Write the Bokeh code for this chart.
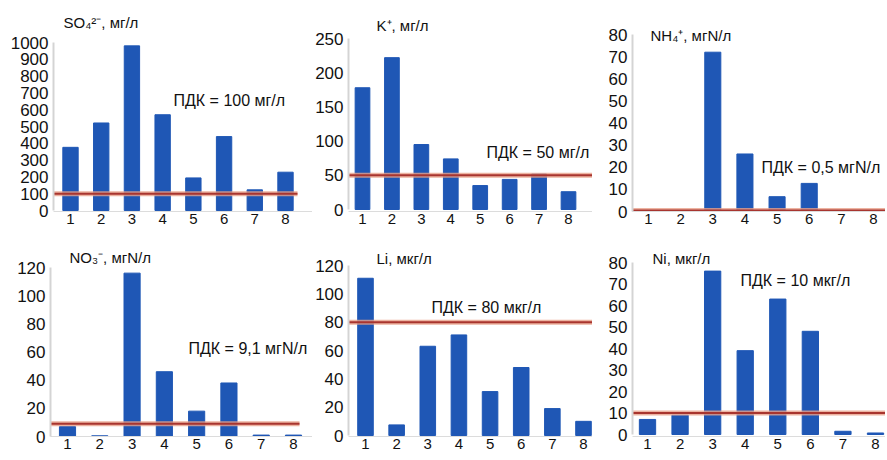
from bokeh.plotting import figure
from bokeh.layouts import column, row
from bokeh.models import Label, FixedTicker
from bokeh.embed import file_html
from bokeh.resources import INLINE

# ---------------- data ----------------
sites = [1, 2, 3, 4, 5, 6, 7, 8]
site_labels = ["1", "2", "3", "4", "5", "6", "7", "8"]

so4 = [376, 521, 980, 570, 194, 440, 123, 228]
k_ion = [178, 222, 95, 74, 35, 44, 52, 26]
nh4 = [0, 0, 72, 26, 6.7, 12.7, 0, 0]
no3 = [7, 0.5, 116, 46, 18, 38, 1, 1]
li = [111, 7.5, 63, 71, 31, 48, 19, 10]
ni = [7, 9, 76, 39, 63, 48, 1.5, 0.7]

titles = ["SO\u2084\u00b2\u207b, мг/л", "K\u207a, мг/л", "NH\u2084\u207a, мгN/л",
          "NO\u2083\u207b, мгN/л", "Li, мкг/л", "Ni, мкг/л"]
pdk_values = [100, 50, 0.5, 9.1, 80, 10]
pdk_labels = ["ПДК = 100 мг/л", "ПДК = 50 мг/л", "ПДК = 0,5 мгN/л",
              "ПДК = 9,1 мгN/л", "ПДК = 80 мкг/л", "ПДК = 10 мкг/л"]
y_ticks = [list(range(0, 1001, 100)), list(range(0, 251, 50)), list(range(0, 81, 10)),
           list(range(0, 121, 20)), list(range(0, 121, 20)), list(range(0, 81, 10))]
series = [so4, k_ion, nh4, no3, li, ni]

# ---------------- layout (page pixels) ----------------
FONT = "Liberation Sans"
BAR = "#1f57b5"
cols = [(0, 312), (312, 280), (592, 293)]                    # fig x0, width
rows = [(0, 228, 8, 211), (228, 230, 238, 436)]              # fig y0, height, frame top, frame bottom
# per panel: frame left, frame right, x of site1, x of site8, y of zero, y of top tick, line end x
geo = [(53, 312, 70, 285, 210, 42, 297), (348, 592, 362, 568, 209, 38, 592),
       (632, 885, 648, 873, 211, 34, 885), (50, 312, 67, 293, 436, 267, 299),
       (348, 592, 365, 583, 435, 265, 592), (632, 885, 647, 875, 434, 262, 885)]
title_pos = [(60, 22), (373, 25), (647, 35), (66, 257), (373, 258), (649, 258)]
pdk_pos = [(170, 100), (483, 152), (758, 167), (185, 348), (428, 307), (737, 280)]


def make_panel(i):
    r, c = divmod(i, 3)
    fx0, fw = cols[c]
    fy0, fh, ftop, fbot = rows[r]
    fleft, fright, x1, x8, y0, ytop, lend = geo[i]
    topval = y_ticks[i][-1]
    s = (x8 - x1) / 7.0
    t = (y0 - ytop) / float(topval)
    xs = 1 - (x1 - fleft) / s
    xe = 8 + (fright - x8) / s
    ys = -(fbot - y0) / t
    ye = topval + (ytop - ftop) / t

    def to_data(px, py):
        return xs + (px - fleft) / s, ys + (fbot - py) / t

    p = figure(width=fw, height=fh, x_range=(xs, xe), y_range=(ys, ye),
               output_backend="svg", toolbar_location=None,
               min_border_left=fleft - fx0, min_border_right=fx0 + fw - fright,
               min_border_top=ftop - fy0, min_border_bottom=fy0 + fh - fbot)
    p.outline_line_color = None
    p.xgrid.visible = False
    p.ygrid.visible = False
    p.background_fill_color = "white"
    p.border_fill_color = "white"

    p.vbar(x=sites, top=series[i], width=0.5, bottom=0, color=BAR, line_color=BAR)

    x_end = to_data(lend, 0)[0]
    p.segment(x0=[xs], x1=[x_end], y0=[pdk_values[i]], y1=[pdk_values[i]],
              line_color="#e8a08a", line_width=5, line_alpha=0.8)
    p.segment(x0=[xs], x1=[x_end], y0=[pdk_values[i]], y1=[pdk_values[i]],
              line_color="#a8352f", line_width=2)

    p.xaxis.ticker = FixedTicker(ticks=sites)
    p.xaxis.major_label_overrides = {s_: l for s_, l in zip(sites, site_labels)}
    p.xaxis.major_tick_out = 0
    p.xaxis.major_tick_in = 0
    p.xaxis.minor_tick_out = 0
    p.xaxis.minor_tick_in = 0
    p.xaxis.major_tick_line_color = None
    p.xaxis.minor_tick_line_color = None
    p.xaxis.axis_line_color = "#dcdcdc"
    p.xaxis.major_label_standoff = 2
    p.xaxis.major_label_text_font = FONT
    p.xaxis.major_label_text_font_size = "15px"
    p.xaxis.major_label_text_color = "#111111"

    p.yaxis.ticker = FixedTicker(ticks=y_ticks[i])
    p.yaxis.bounds = (0, topval)
    p.yaxis.major_tick_out = 0
    p.yaxis.major_tick_in = 0
    p.yaxis.minor_tick_out = 0
    p.yaxis.minor_tick_in = 0
    p.yaxis.major_tick_line_color = None
    p.yaxis.minor_tick_line_color = None
    p.yaxis.axis_line_color = "#d4d4d4"
    p.yaxis.axis_line_width = 2
    p.yaxis.major_label_standoff = 5
    p.yaxis.major_label_text_font = FONT
    p.yaxis.major_label_text_font_size = "17px"
    p.yaxis.major_label_text_color = "#111111"

    tx, ty = to_data(*title_pos[i])
    p.add_layout(Label(x=tx, y=ty, text=titles[i], text_font=FONT, text_font_size="15px",
                       text_color="#111111", text_align="left", text_baseline="middle",
                       background_fill_color="white", padding=3))
    lx, ly = to_data(*pdk_pos[i])
    p.add_layout(Label(x=lx, y=ly, text=pdk_labels[i], text_font=FONT, text_font_size="16px",
                       text_color="#111111", text_align="left", text_baseline="middle",
                       background_fill_color="white", padding=3))
    return p


panels = [make_panel(i) for i in range(6)]
layout = column(row(*panels[:3], spacing=0), row(*panels[3:], spacing=0), spacing=0)

open("out.html", "w").write(file_html(layout, INLINE))
